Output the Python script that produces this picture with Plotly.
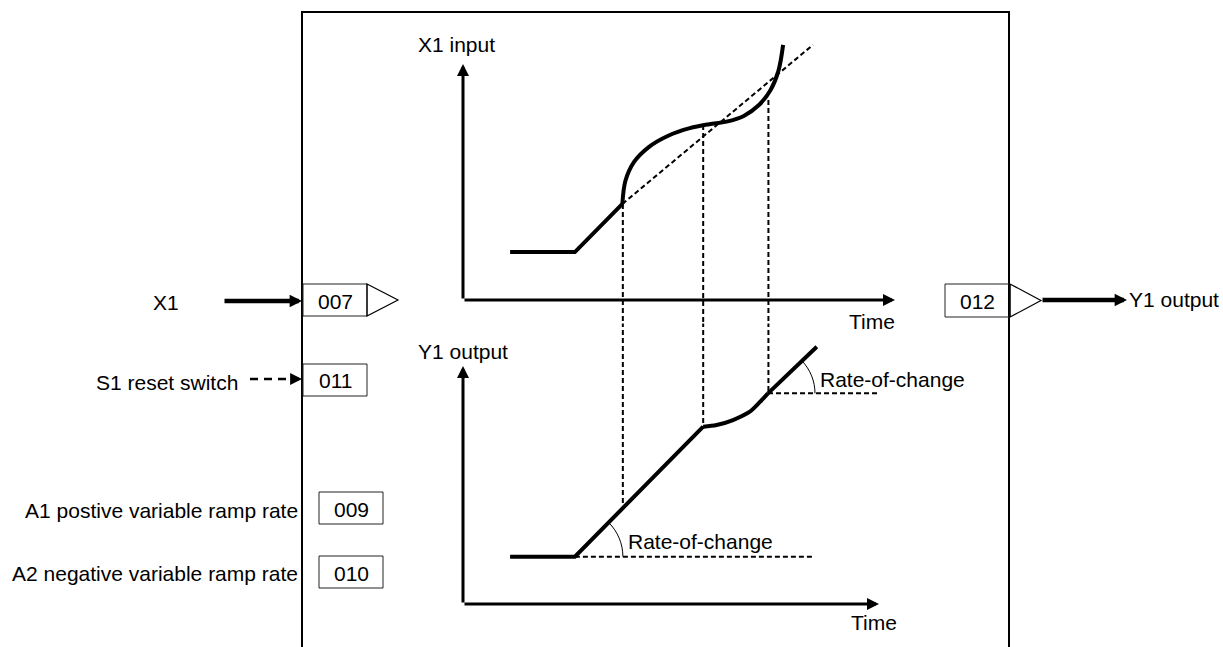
import math

import plotly.graph_objects as go

W, H = 1223, 647
FONT = "Liberation Sans, Arial, sans-serif"

# X1 input (top graph): time and level in % of the drawn axes
x1_ramp_t = [10.9, 25.9, 36.9]
x1_ramp_v = [20.3, 20.3, 40.7]
x1_curve_t = [36.9, 37.6, 39.6, 43.0, 47.5, 52.5, 57.0, 61.0, 65.0, 68.5, 71.2, 73.0, 74.1]
x1_curve_v = [40.7, 50.5, 58.5, 64.8, 69.6, 72.8, 74.5, 75.6, 78.0, 82.6, 89.0, 97.0, 108.1]
x1_trend_t = [36.9, 81.0]
x1_trend_v = [40.7, 108.1]

# Y1 output (bottom graph)
y1_ramp_t = [10.9, 25.9, 55.6]
y1_ramp_v = [19.9, 19.9, 74.5]
y1_curve_t = [55.6, 58.7, 62.5, 66.4, 68.8, 70.6]
y1_curve_v = [74.5, 75.2, 77.3, 80.8, 85.0, 88.5]
y1_tail_t = [70.6, 81.9]
y1_tail_v = [88.5, 108.1]

# instants linking input and output
sync_t = [37.0, 55.6, 70.7]
sync_x1 = [40.7, 74.2, 84.7]
sync_y1 = [41.5, 74.5, 88.5]

# rate-of-change references: start, end, level
rate_t0 = [25.9, 70.6]
rate_t1 = [81.0, 96.3]
rate_v = [19.9, 88.5]
rate_label = "Rate-of-change"

axis_len_top = [100, 100]      # time, level
axis_len_bottom = [96.3, 100]

input_labels = ["X1", "S1 reset switch", "A1 postive variable ramp rate", "A2 negative variable ramp rate"]
input_codes = ["007", "011", "009", "010"]
output_label = "Y1 output"
output_code = "012"

# ---- layout geometry (pixels)
ORIGIN_X = 463
PX_T = 4.32
TOP_ORIGIN_Y, PX_V_TOP = 300, 2.36
BOT_ORIGIN_Y, PX_V_BOT = 604, 2.38
SPLIT = 0.5


def P(x, y):
    return x / W, 1 - y / H


fig = go.Figure()
thick = dict(color="black", width=4)
dashed = dict(color="black", width=2, dash="5px,3px")

# top graph
fig.add_trace(go.Scatter(x=x1_trend_t, y=x1_trend_v, mode="lines", line=dashed, xaxis="x", yaxis="y"))
fig.add_trace(go.Scatter(x=x1_ramp_t, y=x1_ramp_v, mode="lines", line=thick, xaxis="x", yaxis="y"))
fig.add_trace(go.Scatter(x=x1_curve_t, y=x1_curve_v, mode="lines", line=dict(thick, shape="spline", smoothing=1.0),
                         xaxis="x", yaxis="y"))

# bottom graph
fig.add_trace(go.Scatter(x=y1_ramp_t, y=y1_ramp_v, mode="lines", line=thick, xaxis="x2", yaxis="y2"))
fig.add_trace(go.Scatter(x=y1_curve_t, y=y1_curve_v, mode="lines", line=dict(thick, shape="spline", smoothing=0.8),
                         xaxis="x2", yaxis="y2"))
fig.add_trace(go.Scatter(x=y1_tail_t, y=y1_tail_v, mode="lines", line=thick, xaxis="x2", yaxis="y2"))
rx, ry = [], []
for t0, t1, v in zip(rate_t0, rate_t1, rate_v):
    rx += [t0, t1, None]
    ry += [v, v, None]
fig.add_trace(go.Scatter(x=rx, y=ry, mode="lines", line=dashed, xaxis="x2", yaxis="y2"))

# vertical links, each half clipped by its own subplot
sx_top, sy_top, sx_bot, sy_bot = [], [], [], []
for t, a, b in zip(sync_t, sync_x1, sync_y1):
    sx_top += [t, t, None]
    sy_top += [a, -100, None]
    sx_bot += [t, t, None]
    sy_bot += [300, b, None]
fig.add_trace(go.Scatter(x=sx_top, y=sy_top, mode="lines", line=dashed, xaxis="x", yaxis="y"))
fig.add_trace(go.Scatter(x=sx_bot, y=sy_bot, mode="lines", line=dashed, xaxis="x2", yaxis="y2"))

shapes = []
annotations = []


def arc(t0, v0, t1, v1, r):
    ang = math.atan2((v1 - v0) * PX_V_BOT, (t1 - t0) * PX_T)
    k = 4 / 3 * math.tan(ang / 4) * r
    p0 = (r, 0)
    p3 = (r * math.cos(ang), r * math.sin(ang))
    p1 = (r, k)
    p2 = (p3[0] + k * math.sin(ang), p3[1] - k * math.cos(ang))
    pts = [(t0 + px / PX_T, v0 + py / PX_V_BOT) for px, py in (p0, p1, p2, p3)]
    path = "M {},{} C {},{} {},{} {},{}".format(*[c for p in pts for c in p])
    return dict(type="path", path=path, xref="x2", yref="y2", line=dict(color="black", width=1))


shapes.append(arc(y1_ramp_t[1], y1_ramp_v[1], y1_ramp_t[2], y1_ramp_v[2], 48))
shapes.append(arc(y1_tail_t[0], y1_tail_v[0], y1_tail_t[1], y1_tail_v[1], 47))

for x_left, y_mid in [(626, 541.5), (818, 379)]:
    annotations.append(dict(text=rate_label, x=P(x_left, 0)[0], y=P(0, y_mid)[1], xref="paper", yref="paper",
                            xanchor="left", yanchor="middle", showarrow=False))

# axis arrows
for xa, ya, (lt, lv) in [("x", "y", axis_len_top), ("x2", "y2", axis_len_bottom)]:
    for tip in [(lt, 0), (0, lv)]:
        annotations.append(dict(text="", x=tip[0], y=tip[1], ax=0, ay=0, xref=xa, yref=ya, axref=xa, ayref=ya,
                                showarrow=True, arrowhead=2, arrowsize=0.8, arrowwidth=3, standoff=0,
                                arrowcolor="black"))

for text, x, y in [("X1 input", 456.5, 45), ("Time", 872, 321), ("Y1 output", 462.5, 351.5), ("Time", 874, 622)]:
    xp, yp = P(x, y)
    annotations.append(dict(text=text, x=xp, y=yp, xref="paper", yref="paper", showarrow=False,
                            xanchor="center", yanchor="middle"))

# function block
x0, y0 = P(302, 12)
x1, y1 = P(1009, 670)
shapes.append(dict(type="rect", xref="paper", yref="paper", x0=x0, y0=y0, x1=x1, y1=y1,
                   line=dict(color="black", width=2)))

code_boxes = [(303, 284, 367, 316), (303, 364, 367, 396), (319, 492, 383, 524), (319, 556, 383, 588)]
for code, (bx0, by0, bx1, by1) in zip(input_codes, code_boxes):
    a, b = P(bx0, by0)
    c, d = P(bx1, by1)
    shapes.append(dict(type="rect", xref="paper", yref="paper", x0=a, y0=b, x1=c, y1=d,
                       line=dict(color="#222", width=1)))
    xm, ym = P((bx0 + bx1) / 2, (by0 + by1) / 2 + 1)
    annotations.append(dict(text=code, x=xm, y=ym, xref="paper", yref="paper", showarrow=False,
                            xanchor="center", yanchor="middle"))

a, b = P(945, 284)
c, d = P(1010, 317)
shapes.append(dict(type="rect", xref="paper", yref="paper", x0=a, y0=b, x1=c, y1=d,
                   line=dict(color="#222", width=1)))
xm, ym = P(977.5, 301.5)
annotations.append(dict(text=output_code, x=xm, y=ym, xref="paper", yref="paper", showarrow=False,
                        xanchor="center", yanchor="middle"))


def tri(xl, yt, xr, yb):
    p = [P(xl, yt), P(xr, (yt + yb) / 2), P(xl, yb)]
    path = "M {},{} L {},{} L {},{} Z".format(*[c for q in p for c in q])
    return dict(type="path", path=path, xref="paper", yref="paper", line=dict(color="black", width=1.2))


shapes.append(tri(367, 284, 398, 316))
shapes.append(tri(1010, 284, 1041, 317))


# input / output arrows
def arrow(x_tip, y, x_tail, width, size):
    xp, yp = P(x_tip, y)
    return dict(text="", x=xp, y=yp, xref="paper", yref="paper", ax=x_tail - x_tip, ay=0,
                showarrow=True, arrowhead=2, arrowsize=size, arrowwidth=width, standoff=0, arrowcolor="black")


annotations.append(arrow(302, 301, 223, 4.5, 0.55))
annotations.append(arrow(1127, 300, 1041, 4.5, 0.55))
a, b = P(250, 379)
c, _ = P(292, 379)
shapes.append(dict(type="line", xref="paper", yref="paper", x0=a, y0=b, x1=c, y1=b,
                   line=dict(color="black", width=2.5, dash="8px,6px")))
annotations.append(arrow(302, 379, 292, 2.5, 0.95))

label_pos = [(166, 302, "center"), (240, 382, "right"), (300, 510, "right"), (300, 573, "right")]
for text, (x, y, anchor) in zip(input_labels, label_pos):
    xp, yp = P(x, y)
    annotations.append(dict(text=text, x=xp, y=yp, xref="paper", yref="paper", showarrow=False,
                            xanchor=anchor, yanchor="middle"))
xp, yp = P(1127, 300)
annotations.append(dict(text=output_label, x=xp, y=yp, xref="paper", yref="paper", showarrow=False,
                        xanchor="left", yanchor="middle"))

t_range = [-ORIGIN_X / PX_T, (W - ORIGIN_X) / PX_T]
split_px = H * (1 - SPLIT)
top_range = [(TOP_ORIGIN_Y - split_px) / PX_V_TOP, TOP_ORIGIN_Y / PX_V_TOP]
bot_range = [(BOT_ORIGIN_Y - H) / PX_V_BOT, (BOT_ORIGIN_Y - split_px) / PX_V_BOT]

hidden = dict(visible=False, showgrid=False, zeroline=False, fixedrange=True)
fig.update_layout(
    width=W,
    height=H,
    margin=dict(l=0, r=0, t=0, b=0),
    paper_bgcolor="white",
    plot_bgcolor="white",
    showlegend=False,
    font=dict(family=FONT, size=21, color="black"),
    xaxis=dict(hidden, domain=[0, 1], range=t_range, anchor="y"),
    yaxis=dict(hidden, domain=[SPLIT, 1], range=top_range, anchor="x"),
    xaxis2=dict(hidden, domain=[0, 1], range=t_range, anchor="y2"),
    yaxis2=dict(hidden, domain=[0, SPLIT], range=bot_range, anchor="x2"),
    shapes=shapes,
    annotations=annotations,
)

# drop the default page margin so the figure sits at the window origin
fig.write_html("out.html", config={"displayModeBar": False},
               post_script="document.body.style.margin='0';document.body.style.overflow='hidden';")
